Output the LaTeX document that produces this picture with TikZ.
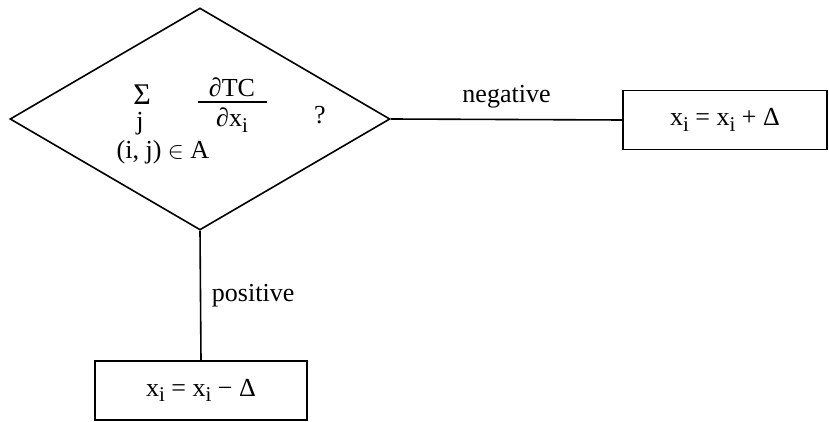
\documentclass[tikz,border=0pt]{standalone}
\usepackage{fontspec}
\setmainfont{Liberation Serif}
\usetikzlibrary{shapes.geometric}
\newcommand{\sbi}{\raisebox{-0.45ex}{\fontsize{10.5}{12}\selectfont i}}
\begin{document}
\begin{tikzpicture}[x=0.5pt,y=-0.5pt,line width=0.8pt,
    font=\fontsize{13}{15}\selectfont,
    test/.style={draw,diamond,inner sep=0pt,minimum width=190pt,minimum height=111pt},
    act/.style={draw,rectangle,inner sep=0pt,minimum height=29.5pt},
    lbl/.style={inner sep=0pt}]
\useasboundingbox (0,0) rectangle (829,422);
\node[test] (chk) at (200,119) {};
\node[lbl,font=\fontsize{15}{17}\selectfont] (sum) at (142,95) {Σ};
\node[lbl] (sj) at (140,124) {j};
\node[lbl] (arc) at (163,152) {(i, j) $\in$ A};
\node[lbl] (num) at (232,87) {∂TC};
\node[lbl] (den) at (232,120) {∂x\sbi};
\node[lbl] (ask) at (320,115) {?};
\draw (198,102) -- (267,102);
\node[act,minimum width=102pt] (inc) at (725,120) {x\sbi{} = x\sbi{} + Δ};
\node[act,minimum width=106pt] (dec) at (201,390.5) {x\sbi{} = x\sbi{} − Δ};
\path [-]
    (chk.east) edge node[midway,above=2pt] {negative} (inc.west)
    (chk.south) edge node[midway,right=2pt] {positive} (dec.north);
\end{tikzpicture}
\end{document}
